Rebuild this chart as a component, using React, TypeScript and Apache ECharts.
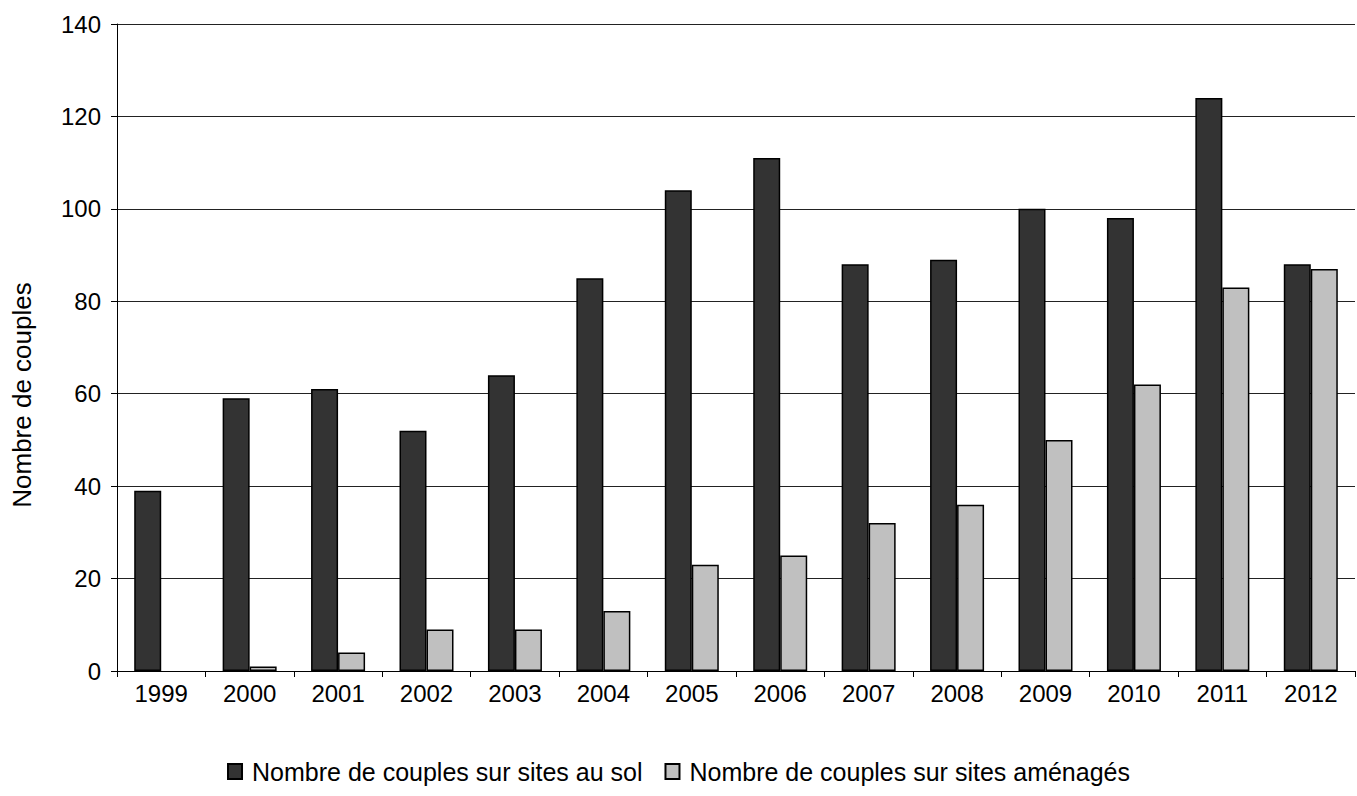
import React, { useEffect, useRef } from "react";
import * as echarts from "echarts";

const years = ["1999", "2000", "2001", "2002", "2003", "2004", "2005", "2006", "2007", "2008", "2009", "2010", "2011", "2012"];
const solValues = [39, 59, 61, 52, 64, 85, 104, 111, 88, 89, 100, 98, 124, 88];
const amenagesValues = [0, 1, 4, 9, 9, 13, 23, 25, 32, 36, 50, 62, 83, 87];
const seriesNames = ["Nombre de couples sur sites au sol", "Nombre de couples sur sites aménagés"];
const yAxisTitle = "Nombre de couples";

const FONT = "'Liberation Sans', Arial, sans-serif";

const toItems = (vals: number[]) =>
  vals.map((v) => (v === 0 ? { value: v, itemStyle: { borderWidth: 0 } } : v));

export default function App() {
  const ref = useRef<HTMLDivElement>(null);
  useEffect(() => {
    if (!ref.current) return;
    const chart = echarts.init(ref.current, undefined, { renderer: "svg" });
    chart.setOption({
      animation: false,
      backgroundColor: "#ffffff",
      textStyle: { fontFamily: FONT },
      grid: { left: 117, right: 2, top: 24, bottom: 125, containLabel: false },
      legend: {
        top: 754,
        left: "center",
        icon: "rect",
        itemWidth: 14,
        itemHeight: 15,
        itemGap: 22,
        textStyle: { fontSize: 25, color: "#000", fontFamily: FONT, padding: [0, 0, 0, 5] },
        data: seriesNames,
      },
      graphic: [
        {
          type: "text",
          x: 22,
          y: 395,
          rotation: Math.PI / 2,
          style: {
            text: yAxisTitle,
            fontSize: 26,
            fontFamily: FONT,
            fill: "#000",
            align: "center",
            verticalAlign: "middle",
          },
        },
      ],
      xAxis: {
        type: "category",
        data: years,
        axisLine: { show: true, lineStyle: { color: "#000", width: 1 } },
        axisTick: { show: true, alignWithLabel: false, length: 6, lineStyle: { color: "#000" } },
        axisLabel: { color: "#000", fontSize: 24, margin: 10, fontFamily: FONT },
        splitLine: { show: false },
      },
      yAxis: {
        type: "value",
        min: 0,
        max: 140,
        interval: 20,
        axisLine: { show: true, lineStyle: { color: "#000", width: 1 } },
        axisTick: { show: true, length: 6, lineStyle: { color: "#000" } },
        axisLabel: { color: "#000", fontSize: 24, margin: 16, fontFamily: FONT },
        splitLine: { show: true, lineStyle: { color: "#222", width: 1 } },
      },
      series: [
        {
          name: seriesNames[0],
          type: "bar",
          data: toItems(solValues),
          barWidth: 27,
          barGap: "0%",
          itemStyle: { color: "#333333", borderColor: "#000", borderWidth: 1.5 },
        },
        {
          name: seriesNames[1],
          type: "bar",
          data: toItems(amenagesValues),
          barWidth: 27,
          barGap: "0%",
          itemStyle: { color: "#c0c0c0", borderColor: "#000", borderWidth: 1.5 },
        },
      ],
    });
    return () => chart.dispose();
  }, []);
  return (
    <div
      ref={ref}
      style={{ position: "fixed", left: 0, top: 0, width: 1357, height: 796, background: "#fff" }}
    />
  );
}
